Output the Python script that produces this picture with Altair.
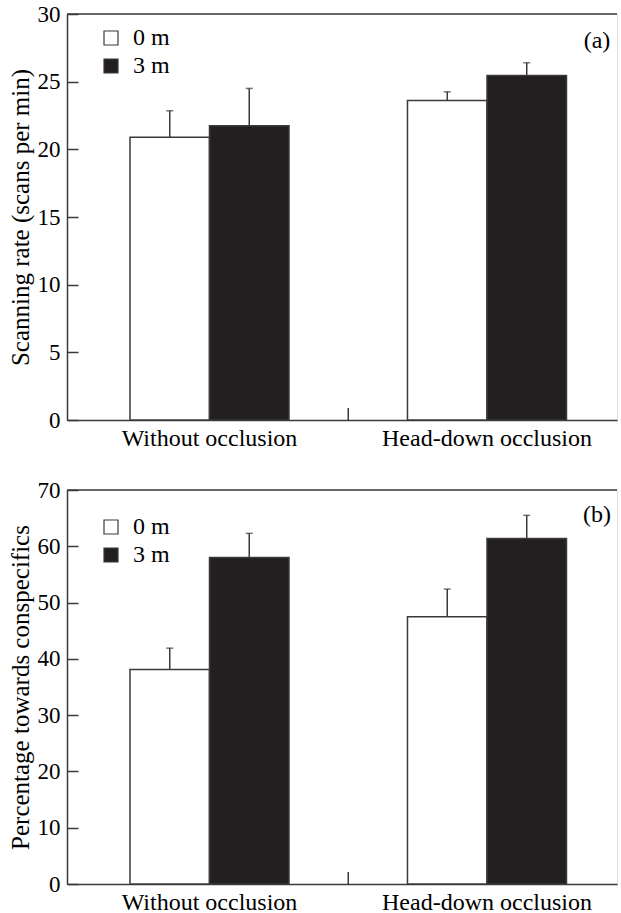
import altair as alt
import pandas as pd

# ---- data ----
groups = ["Without occlusion", "Head-down occlusion"]
distances = ["0 m", "3 m"]
bar_group = ["Without occlusion", "Without occlusion", "Head-down occlusion", "Head-down occlusion"]
bar_dist = ["0 m", "3 m", "0 m", "3 m"]

# (a) scanning rate (scans per min): means and standard errors
scan_mean = [20.9, 21.75, 23.6, 25.45]
scan_se = [1.95, 2.75, 0.65, 0.95]
scan_ticks = [0, 5, 10, 15, 20, 25, 30]

# (b) percentage of scans towards conspecifics
pct_mean = [38.1, 58.0, 47.5, 61.4]
pct_se = [3.8, 4.3, 4.9, 4.1]
pct_ticks = [0, 10, 20, 30, 40, 50, 60, 70]

FONT = "Liberation Serif"
FS = 24
INK = "#3a3a3a"
BLACK = "#231f20"
P_INNER = 0.427
P_OUTER = 0.2045
WIDTH = 550


def panel(means, ses, ytitle, ticks, height, tag, tag_y, leg_y):
    df = pd.DataFrame({
        "group": bar_group,
        "dist": bar_dist,
        "mean": means,
        "upper": [m + s for m, s in zip(means, ses)],
    })
    one = pd.DataFrame({"tag": [tag], "top": [ticks[-1]], "group": [groups[1]]})
    ymax = ticks[-1]
    xscale = alt.Scale(domain=groups, paddingInner=P_INNER, paddingOuter=P_OUTER, align=0.555)
    x = alt.X("group:N", sort=groups, title=None, scale=xscale,
              axis=alt.Axis(labelAngle=0, ticks=False, labelLimit=500, labelPadding=6,
                            labelFont=FONT, labelFontSize=FS, labelColor="black",
                            domainColor=INK, domainWidth=1.5))
    xoff = alt.XOffset("dist:N", sort=distances,
                       scale=alt.Scale(domain=distances, paddingInner=0, paddingOuter=0))
    y = alt.Y("mean:Q", scale=alt.Scale(domain=[0, ymax], nice=False),
              axis=alt.Axis(values=ticks, title=ytitle, grid=False,
                            tickSize=alt.ExprRef(expr="-11"), labelPadding=18,
                            labelFont=FONT, labelFontSize=23, labelColor="black",
                            titleFont=FONT, titleFontSize=25, titleFontWeight="normal",
                            titleColor="black", titlePadding=4,
                            domainColor=INK, domainWidth=1.5, tickColor=INK, tickWidth=1.5))
    fill = alt.Fill("dist:N", sort=distances,
                    scale=alt.Scale(domain=distances, range=["white", BLACK]),
                    legend=alt.Legend(orient="none", legendX=32, legendY=leg_y, title=None,
                                      symbolType="square", symbolSize=196,
                                      symbolStrokeColor=INK, symbolStrokeWidth=1.2,
                                      labelFont=FONT, labelFontSize=FS, labelColor="black",
                                      labelOffset=10, rowPadding=4, padding=0))
    base = alt.Chart(df)
    bars = base.mark_bar(stroke=INK, strokeWidth=1.5).encode(x=x, xOffset=xoff, y=y, fill=fill)
    err = base.mark_rule(color=INK, strokeWidth=1.5).encode(
        x=alt.X("group:N", sort=groups), xOffset=alt.XOffset("dist:N", sort=distances),
        y="mean:Q", y2="upper:Q")
    cap = base.mark_tick(color=INK, thickness=1.5, size=7, orient="horizontal").encode(
        x=alt.X("group:N", sort=groups), xOffset=alt.XOffset("dist:N", sort=distances),
        y="upper:Q")
    top = alt.Chart(one).mark_rule(color=INK, strokeWidth=1.5).encode(y="top:Q")
    # inward tick on the x axis at the boundary between the two groups:
    # half the inner padding to the left of the second band's start
    step = WIDTH / (len(groups) - P_INNER + 2 * P_OUTER)
    divider = alt.Chart(one).mark_rule(color=INK, strokeWidth=1.5,
                                       xOffset=-step * P_INNER / 2).encode(
        x=alt.X("group:N", sort=groups, bandPosition=0),
        y=alt.datum(0), y2=alt.value(height - 12))
    label = alt.Chart(one).mark_text(font=FONT, fontSize=FS, color="black",
                                     align="center", baseline="middle").encode(
        text="tag:N", x=alt.value(530), y=alt.value(tag_y))
    return alt.layer(bars, err, cap, top, divider, label).properties(width=WIDTH, height=height)


pa = panel(scan_mean, scan_se, "Scanning rate (scans per min)", scan_ticks, 406, "(a)", 27, 12)
pb = panel(pct_mean, pct_se, "Percentage towards conspecifics", pct_ticks, 394, "(b)", 25, 25)

chart = (alt.vconcat(pa, pb, spacing=27)
         .resolve_scale(y="independent")
         .resolve_legend(fill="independent")
         .properties(padding={"left": 7, "top": 2, "right": 0, "bottom": 0})
         .configure_view(stroke=None)
         .configure(font=FONT, background="white"))

chart.save("out.html", embed_options={"renderer": "svg", "actions": False})
